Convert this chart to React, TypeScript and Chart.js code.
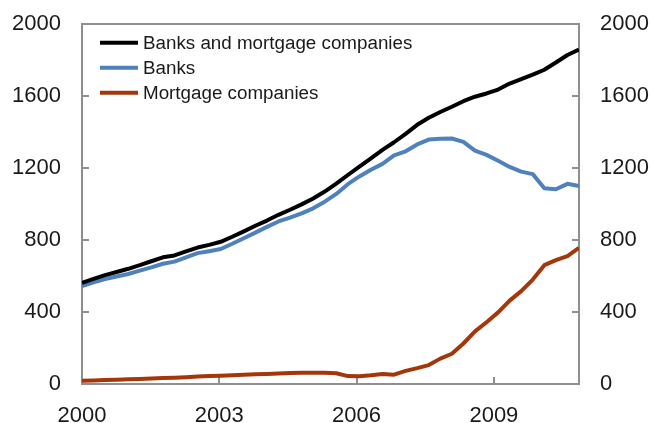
import { useEffect, useRef } from "react";
import { Chart, registerables } from "chart.js";

Chart.register(...registerables);

const periods = [
  "2000 Q1", "2000 Q2", "2000 Q3", "2000 Q4",
  "2001 Q1", "2001 Q2", "2001 Q3", "2001 Q4",
  "2002 Q1", "2002 Q2", "2002 Q3", "2002 Q4",
  "2003 Q1", "2003 Q2", "2003 Q3", "2003 Q4",
  "2004 Q1", "2004 Q2", "2004 Q3", "2004 Q4",
  "2005 Q1", "2005 Q2", "2005 Q3", "2005 Q4",
  "2006 Q1", "2006 Q2", "2006 Q3", "2006 Q4",
  "2007 Q1", "2007 Q2", "2007 Q3", "2007 Q4",
  "2008 Q1", "2008 Q2", "2008 Q3", "2008 Q4",
  "2009 Q1", "2009 Q2", "2009 Q3", "2009 Q4",
  "2010 Q1", "2010 Q2", "2010 Q3", "2010 Q4",
];

const banksAndMortgage = [
  562, 584, 605, 622, 640, 660, 682, 704, 714, 737, 758, 773,
  790, 818, 848, 879, 908, 940, 968, 998, 1031, 1069, 1113, 1161,
  1207, 1253, 1301, 1343, 1390, 1440, 1479, 1511, 1540, 1571, 1596, 1614,
  1636, 1669, 1694, 1719, 1746, 1786, 1828, 1858,
];

const banks = [
  544, 565, 583, 597, 611, 630, 648, 668, 680, 704, 727, 738,
  750, 779, 810, 841, 873, 903, 924, 948, 976, 1013, 1056, 1110,
  1153, 1190, 1223, 1270, 1293, 1331, 1358, 1362, 1364, 1345, 1297, 1273,
  1240, 1206, 1180, 1166, 1088, 1082, 1112, 1100,
];

const mortgageCompanies = [
  18, 20, 22, 24, 26, 28, 30, 33, 35, 38, 42, 44,
  46, 49, 51, 54, 56, 59, 61, 62, 63, 63, 60, 44,
  43, 48, 55, 52, 73, 88, 105, 141, 168, 225, 292, 343,
  398, 463, 516, 580, 660, 688, 711, 756,
];

const seriesLabels = ["Banks and mortgage companies", "Banks", "Mortgage companies"];
const seriesColors = ["#000000", "#4f81bd", "#a3370a"];

const yTickValues = [0, 400, 800, 1200, 1600, 2000];
const xTickYears = [2000, 2003, 2006, 2009];
const X_MIN = 2000;
const X_MAX = 2010.86;
const Y_MIN = 0;
const Y_MAX = 2000;

const FONT = "'Liberation Sans', Arial, sans-serif";
const AXIS_GRAY = "#8f8f8f";
const TEXT_COLOR = "#1a1a1a";

const toPoints = (vals: number[]) => {
  const step = (X_MAX - X_MIN) / (periods.length - 1);
  return vals.map((v, i) => ({ x: X_MIN + i * step, y: v }));
};

const framePlugin = {
  id: "frameAndTicks",
  beforeDatasetsDraw(chart: any) {
    const { ctx, chartArea } = chart;
    const { left, right, top, bottom } = chartArea;
    const xs = chart.scales.x;
    const yl = chart.scales.y;
    ctx.save();
    ctx.strokeStyle = AXIS_GRAY;
    ctx.lineWidth = 2;
    ctx.strokeRect(left, top, right - left, bottom - top);
    const tl = 7;
    ctx.beginPath();
    for (const v of yTickValues) {
      const py = Math.round(yl.getPixelForValue(v));
      ctx.moveTo(left, py);
      ctx.lineTo(left + tl, py);
      ctx.moveTo(right, py);
      ctx.lineTo(right - tl, py);
    }
    for (const v of xTickYears) {
      const px = Math.round(xs.getPixelForValue(v));
      ctx.moveTo(px, bottom);
      ctx.lineTo(px, bottom - tl);
    }
    ctx.stroke();
    ctx.restore();
  },
  afterDraw(chart: any) {
    const { ctx } = chart;
    ctx.save();
    const x0 = 100;
    const x1 = 138;
    const tx = 143;
    chart.data.datasets.forEach((ds: any, i: number) => {
      const ly = 42.7 + i * 25;
      ctx.strokeStyle = ds.borderColor;
      ctx.lineWidth = 4;
      ctx.beginPath();
      ctx.moveTo(x0, ly);
      ctx.lineTo(x1, ly);
      ctx.stroke();
      ctx.fillStyle = TEXT_COLOR;
      ctx.font = `18.8px ${FONT}`;
      ctx.textAlign = "left";
      ctx.textBaseline = "alphabetic";
      ctx.fillText(ds.label, tx, ly + 6.6);
    });
    ctx.restore();
  },
};

export default function App() {
  const canvasRef = useRef<HTMLCanvasElement | null>(null);

  useEffect(() => {
    if (!canvasRef.current) return;
    const tickFont = { family: FONT, size: 22 };
    const yScale = (position: "left" | "right", width: number) => ({
      type: "linear" as const,
      position,
      min: Y_MIN,
      max: Y_MAX,
      afterBuildTicks: (s: any) => {
        s.ticks = yTickValues.map((v) => ({ value: v }));
      },
      afterFit: (s: any) => {
        s.width = width;
        s.paddingTop = 0;
        s.paddingBottom = 0;
      },
      ticks: {
        font: tickFont,
        color: TEXT_COLOR,
        padding: 21,
        callback: (v: any) => String(v),
      },
      grid: { display: false, drawTicks: false },
      border: { display: false },
    });

    const chart = new Chart(canvasRef.current, {
      type: "line",
      data: {
        datasets: [
          { label: seriesLabels[0], data: toPoints(banksAndMortgage), borderColor: seriesColors[0] },
          { label: seriesLabels[1], data: toPoints(banks), borderColor: seriesColors[1] },
          { label: seriesLabels[2], data: toPoints(mortgageCompanies), borderColor: seriesColors[2] },
        ].map((d) => ({
          ...d,
          borderWidth: 4,
          pointRadius: 0,
          tension: 0,
          fill: false,
          borderJoinStyle: "round" as const,
          borderCapStyle: "butt" as const,
        })),
      },
      options: {
        animation: false,
        responsive: false,
        maintainAspectRatio: false,
        layout: { padding: { top: 24, left: 0, right: 0, bottom: 0 } },
        plugins: { legend: { display: false }, tooltip: { enabled: false }, title: { display: false } },
        scales: {
          x: {
            type: "linear",
            position: "bottom",
            min: X_MIN,
            max: X_MAX,
            afterBuildTicks: (s: any) => {
              s.ticks = xTickYears.map((v) => ({ value: v }));
            },
            afterFit: (s: any) => {
              s.height = 39;
              s.paddingLeft = 0;
              s.paddingRight = 0;
            },
            ticks: {
              font: tickFont,
              color: TEXT_COLOR,
              padding: 18.5,
              maxRotation: 0,
              autoSkip: false,
              callback: (v: any) => String(v),
            },
            grid: { display: false, drawTicks: false },
            border: { display: false },
          },
          y: yScale("left", 82),
          y2: yScale("right", 75),
        },
      },
      plugins: [framePlugin],
    });
    return () => chart.destroy();
  }, []);

  return (
    <div style={{ position: "absolute", left: 0, top: 0, width: 654, height: 423, background: "#fff" }}>
      <canvas ref={canvasRef} width={654} height={423} style={{ display: "block" }} />
    </div>
  );
}
